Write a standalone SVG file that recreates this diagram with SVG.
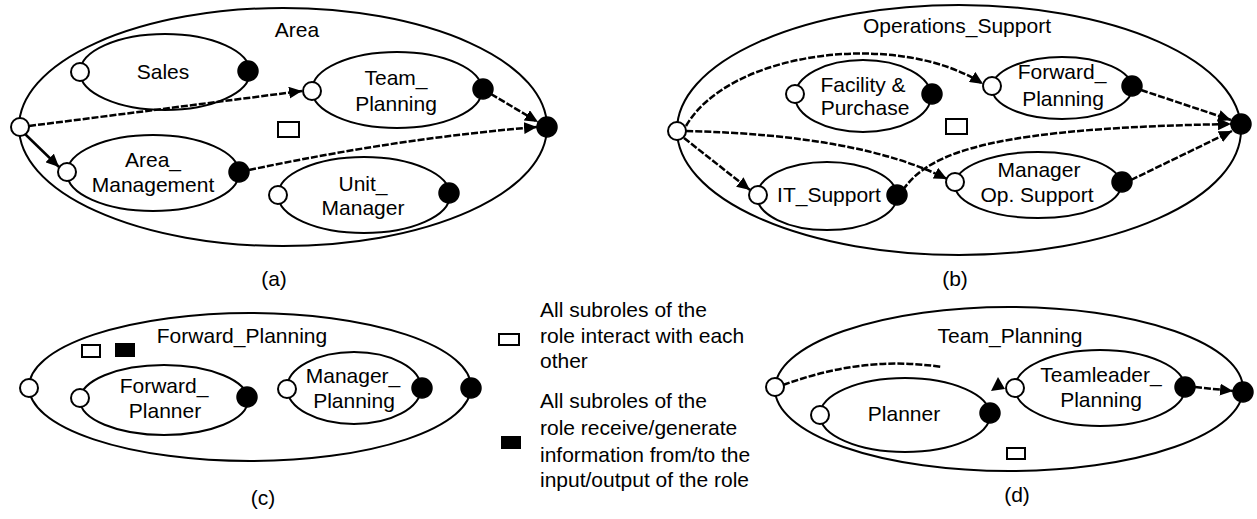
<svg xmlns="http://www.w3.org/2000/svg" width="1257" height="519" viewBox="0 0 1257 519">
<style>
.el{fill:none;stroke:#000;stroke-width:2}
.in{fill:#fff;stroke:#000;stroke-width:2}
.out{fill:#000;stroke:#000;stroke-width:1.5}
.t{font-family:"Liberation Sans",Arial,sans-serif;font-size:21px;fill:#000;text-anchor:middle}
.lg{font-family:"Liberation Sans",Arial,sans-serif;font-size:21px;fill:#000}
.dash{fill:none;stroke:#000;stroke-width:2.5;stroke-dasharray:7 2}
.solid{fill:none;stroke:#000;stroke-width:2.5}
.box{fill:#fff;stroke:#000;stroke-width:2}
</style>
<defs>
<marker id="ah" markerUnits="userSpaceOnUse" markerWidth="14" markerHeight="12" refX="13" refY="6" orient="auto">
<path d="M0,0 L13,6 L0,12 z" fill="#000"/>
</marker>
</defs>
<rect width="1257" height="519" fill="#fff"/>

<!-- Panel (a) -->
<g id="a_Area">
<ellipse class="el" cx="283" cy="127" rx="264" ry="119"/>
<text class="t" x="297" y="37">Area</text>
<circle class="in" cx="20" cy="127" r="9"/>
<circle class="out" cx="547" cy="127" r="10"/>
<rect class="box" x="278" y="122" width="21" height="15"/>
</g>
<g id="a_Sales">
<ellipse class="el" cx="165" cy="72" rx="85" ry="38"/>
<text class="t" x="163" y="79">Sales</text>
<circle class="in" cx="80" cy="72" r="9"/>
<circle class="out" cx="248" cy="71" r="10"/>
</g>
<g id="a_TeamPlanning">
<ellipse class="el" cx="397" cy="90" rx="85" ry="38"/>
<text class="t" x="396" y="85">Team_</text>
<text class="t" x="396" y="111">Planning</text>
<circle class="in" cx="312" cy="91" r="9"/>
<circle class="out" cx="483" cy="89" r="10"/>
</g>
<g id="a_AreaManagement">
<ellipse class="el" cx="153" cy="173" rx="86" ry="38"/>
<text class="t" x="153" y="167">Area_</text>
<text class="t" x="153" y="192">Management</text>
<circle class="in" cx="67" cy="172" r="9"/>
<circle class="out" cx="239" cy="172" r="10"/>
</g>
<g id="a_UnitManager">
<ellipse class="el" cx="364" cy="195" rx="86" ry="38"/>
<text class="t" x="363" y="191">Unit_</text>
<text class="t" x="363" y="215">Manager</text>
<circle class="in" cx="278" cy="195" r="9"/>
<circle class="out" cx="449" cy="193" r="10"/>
</g>
<text class="t" x="274" y="286">(a)</text>

<!-- Panel (b) -->
<g id="b_OperationsSupport">
<ellipse class="el" cx="959" cy="130" rx="282" ry="125"/>
<text class="t" x="957" y="33">Operations_Support</text>
<circle class="in" cx="677" cy="131" r="9"/>
<circle class="out" cx="1241" cy="124" r="10"/>
<rect class="box" x="946" y="119" width="21" height="15"/>
</g>
<g id="b_FacilityPurchase">
<ellipse class="el" cx="863" cy="96" rx="68" ry="36"/>
<text class="t" x="863" y="92">Facility &amp;</text>
<text class="t" x="865" y="115">Purchase</text>
<circle class="in" cx="795" cy="94" r="9"/>
<circle class="out" cx="932" cy="94" r="10"/>
</g>
<g id="b_ForwardPlanning">
<ellipse class="el" cx="1062" cy="88" rx="70" ry="31"/>
<text class="t" x="1062" y="79">Forward_</text>
<text class="t" x="1063" y="106">Planning</text>
<circle class="in" cx="992" cy="86" r="9"/>
<circle class="out" cx="1132" cy="86" r="10"/>
</g>
<g id="b_ITSupport">
<ellipse class="el" cx="827" cy="196" rx="70" ry="34"/>
<text class="t" x="829" y="202">IT_Support</text>
<circle class="in" cx="758" cy="195" r="9"/>
<circle class="out" cx="897" cy="195" r="10"/>
</g>
<g id="b_ManagerOpSupport">
<ellipse class="el" cx="1038" cy="185" rx="83" ry="33"/>
<text class="t" x="1039" y="177">Manager</text>
<text class="t" x="1037" y="202">Op. Support</text>
<circle class="in" cx="955" cy="182" r="9"/>
<circle class="out" cx="1122" cy="182" r="10"/>
</g>
<text class="t" x="955" y="286">(b)</text>

<!-- Panel (c) -->
<g id="c_ForwardPlanning">
<ellipse class="el" cx="250" cy="387" rx="221" ry="74"/>
<text class="t" x="242" y="343">Forward_Planning</text>
<rect class="box" x="82" y="345" width="18" height="12"/>
<rect x="115" y="343" width="20" height="14" fill="#000"/>
<circle class="in" cx="29" cy="388" r="9"/>
<circle class="out" cx="471" cy="388" r="10"/>
</g>
<g id="c_ForwardPlanner">
<ellipse class="el" cx="164" cy="400" rx="84" ry="35"/>
<text class="t" x="164" y="393">Forward_</text>
<text class="t" x="165" y="418">Planner</text>
<circle class="in" cx="80" cy="398" r="9"/>
<circle class="out" cx="247" cy="397" r="10"/>
</g>
<g id="c_ManagerPlanning">
<ellipse class="el" cx="354" cy="388" rx="67" ry="36"/>
<text class="t" x="353" y="383">Manager_</text>
<text class="t" x="354" y="408">Planning</text>
<circle class="in" cx="287" cy="389" r="9"/>
<circle class="out" cx="422" cy="388" r="10"/>
</g>
<text class="t" x="263" y="505">(c)</text>

<!-- Legend -->
<g id="legend">
<rect class="box" x="499" y="334" width="20" height="11"/>
<text class="lg" x="540" y="317">All subroles of the</text>
<text class="lg" x="540" y="343">role interact with each</text>
<text class="lg" x="540" y="368">other</text>
<rect x="501" y="436" width="20" height="13" fill="#000"/>
<text class="lg" x="540" y="408">All subroles of the</text>
<text class="lg" x="540" y="435">role receive/generate</text>
<text class="lg" x="540" y="462">information from/to the</text>
<text class="lg" x="540" y="487">input/output of the role</text>
</g>

<!-- Panel (d) -->
<g id="d_TeamPlanning">
<ellipse class="el" cx="1009" cy="389" rx="234" ry="82"/>
<text class="t" x="1010" y="343">Team_Planning</text>
<circle class="in" cx="775" cy="387" r="9"/>
<circle class="out" cx="1243" cy="392" r="10"/>
<rect class="box" x="1007" y="448" width="18" height="11"/>
</g>
<g id="d_Planner">
<ellipse class="el" cx="905" cy="415" rx="85" ry="37"/>
<text class="t" x="904" y="421">Planner</text>
<circle class="in" cx="820" cy="415" r="9"/>
<circle class="out" cx="990" cy="413" r="10"/>
</g>
<g id="d_TeamleaderPlanning">
<ellipse class="el" cx="1100" cy="388" rx="85" ry="38"/>
<text class="t" x="1101" y="382">Teamleader_</text>
<text class="t" x="1101" y="407">Planning</text>
<circle class="in" cx="1015" cy="388" r="9"/>
<circle class="out" cx="1185" cy="387" r="10"/>
</g>
<text class="t" x="1017" y="502">(d)</text>

<!-- Connectors -->
<g id="connectors">
<path class="dash" d="M29,126 Q170,108 302,91" marker-end="url(#ah)"/>
<path class="solid" d="M25,134 L59,167" marker-end="url(#ah)"/>
<path class="dash" d="M491,94 L538,122" marker-end="url(#ah)"/>
<path class="dash" d="M249,170 Q400,138 537,127" marker-end="url(#ah)"/>

<path class="dash" d="M686,126 C730,50 900,30 983,84" marker-end="url(#ah)"/>
<path class="dash" d="M684,138 L750,190" marker-end="url(#ah)"/>
<path class="dash" d="M686,131 Q860,135 947,179" marker-end="url(#ah)"/>
<path class="dash" d="M903,190 C930,150 1000,128 1231,124" marker-end="url(#ah)"/>
<path class="dash" d="M1141,90 L1231,120" marker-end="url(#ah)"/>
<path class="dash" d="M1131,180 L1232,131" marker-end="url(#ah)"/>

<path class="dash" d="M783,385 C830,368 880,358 942,367"/>
<polygon points="991,391 1005,389 998,377" fill="#000"/>
<path class="dash" d="M1195,387 L1233,391" marker-end="url(#ah)"/>
</g>
</svg>
